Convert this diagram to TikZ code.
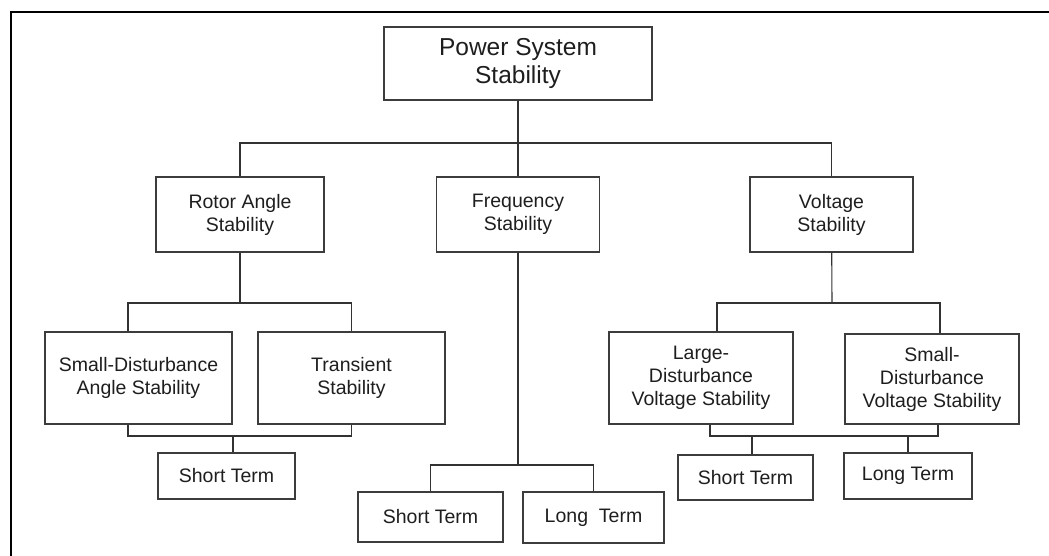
\documentclass[tikz,border=0pt]{standalone}
\usepackage{xcolor}
\usepackage{tikz}
\usepackage{fontspec}
\setmainfont{Liberation Sans}
\usetikzlibrary{calc}
\definecolor{boxgray}{RGB}{60,60,60}
\definecolor{linegray}{RGB}{50,50,50}
\definecolor{textdark}{RGB}{30,30,30}
\tikzset{
  block/.style={rectangle, draw=boxgray, line width=1.1pt, inner sep=0pt,
    align=center, text=textdark, font=\fontsize{19.5}{23}\selectfont},
  rootblock/.style={block, font=\fontsize{24.5}{28}\selectfont},
  termblock/.style={block},
  link/.style={draw=linegray, line width=1.1pt},
}

\begin{document}
\begin{tikzpicture}[x=1pt, y=-1pt]

  \useasboundingbox (0,0) rectangle (1049,556);

  %% Outer frame (top and left edges only)
  \draw[line width=2.2pt] (11,556) -- (11,12) -- (1049,12);

  %% Root
  \node[rootblock, minimum width=268pt, minimum height=73pt] (root)
    at (518,63.5) {Power System\\Stability};

  %% Second level
  \node[block, minimum width=168pt, minimum height=75pt] (rotor)
    at (240,214.5) {Rotor Angle\\Stability};
  \node[block, minimum width=163pt, minimum height=75pt] (freq)
    at (518,214.5) {Frequency\\Stability};
  \node[block, minimum width=163pt, minimum height=75pt] (volt)
    at (831.5,214.5) {Voltage\\Stability};

  \coordinate (busTop) at (518,143);
  \draw[link] (root) -- (freq);
  \draw[link] (rotor.north) |- (busTop) -| (volt.north);

  %% Rotor angle branch
  \node[block, minimum width=187pt, minimum height=92pt] (sda)
    at (138.5,378) {Small-Disturbance\\Angle Stability};
  \node[block, minimum width=187pt, minimum height=92pt] (trans)
    at (351.5,378) {Transient\\Stability};
  \node[termblock, minimum width=137pt, minimum height=46pt] (stA)
    at (226.5,476) {Short Term};

  \coordinate (busRA) at (240,303);
  \coordinate (busRAlow) at (233,436);
  \draw[link] (rotor) -- (busRA);
  \draw[link] ([xshift=-10.5pt]sda.north) |- (busRA) -| (trans.north);
  \draw[link] ([xshift=-10.5pt]sda.south) |- (busRAlow) -| (trans.south);
  \draw[link] (busRAlow) -- (busRAlow |- stA.north);

  %% Frequency branch
  \node[termblock, minimum width=145pt, minimum height=50pt] (stF)
    at (430.5,517) {Short Term};
  \node[termblock, minimum width=141pt, minimum height=51pt] (ltF)
    at (593.5,517.5) {Long\ \ Term};

  \coordinate (busF) at (518,465);
  \draw[link] (freq) -- (busF);
  \draw[link] (stF.north) |- (busF) -| (ltF.north);

  %% Voltage branch
  \node[block, minimum width=184pt, minimum height=92pt] (lds)
    at (701,378) {Large-\\Disturbance\\Voltage Stability};
  \node[block, minimum width=174pt, minimum height=90pt] (sdv)
    at (932,379) {Small-\\Disturbance\\Voltage Stability};
  \node[termblock, minimum width=135pt, minimum height=45pt] (stV)
    at (745.5,477.5) {Short Term};
  \node[termblock, minimum width=128pt, minimum height=46pt] (ltV)
    at (908,476) {Long Term};

  \coordinate (busV) at (832,303);
  \coordinate (busVlow) at (752,436);
  \draw[link] (volt) -- (busV);
  \draw[link] ([xshift=16pt]lds.north) |- (busV) -| ([xshift=8pt]sdv.north);
  \draw[link] ([xshift=9pt]lds.south) |- (busVlow) -| ([xshift=6pt]sdv.south);
  \draw[link] (busVlow) -- (busVlow |- stV.north);
  \draw[link] (ltV.north) -- (ltV.north |- busVlow);

\end{tikzpicture}
\end{document}
